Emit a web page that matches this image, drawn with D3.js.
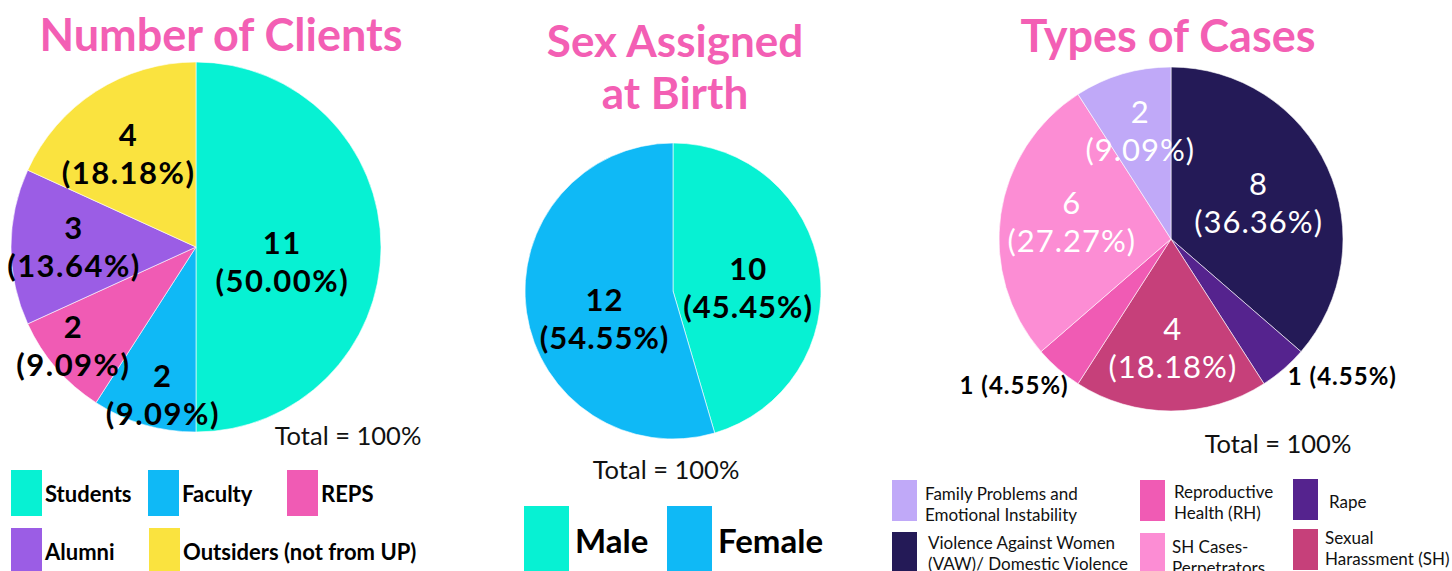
<!DOCTYPE html>
<html>
<head>
<meta charset="utf-8">
<script src="https://cdn.jsdelivr.net/npm/d3@7"></script>
<style>
  body { margin: 0; background: #fff; }
  svg { display: block; font-family: Lato, "Open Sans", sans-serif; }
</style>
</head>
<body>
<svg id="chart" width="1452" height="571"></svg>
<script>
// data
const clientCategories = ['Students', 'Faculty', 'REPS', 'Alumni', 'Outsiders (not from UP)'];
const clientValues = [11, 2, 2, 3, 4];
const clientPercents = ['50.00%', '9.09%', '9.09%', '13.64%', '18.18%'];

const sexCategories = ['Male', 'Female'];
const sexValues = [10, 12];
const sexPercents = ['45.45%', '54.55%'];

const caseCategories = ['Violence Against Women (VAW)/ Domestic Violence', 'Rape', 'Sexual Harassment (SH)',
    'Reproductive Health (RH)', 'SH Cases- Perpetrators', 'Family Problems and Emotional Instability'];
const caseValues = [8, 1, 4, 1, 6, 2];
const casePercents = ['36.36%', '4.55%', '18.18%', '4.55%', '27.27%', '9.09%'];

const totalLabel = 'Total = 100%';

const pink = '#f35fb4';
const svg = d3.select('#chart');

// labelAt: [fraction of radius, angle shift in degrees] for each slice
function drawPie(opts) {
    const g = svg.append('g').attr('transform', `translate(${opts.cx},${opts.cy})`);
    const pie = d3.pie().sort(null).value(d => d);
    const arcs = pie(opts.values);
    const arc = d3.arc().innerRadius(0).outerRadius(opts.r);

    g.selectAll('path').data(arcs).enter()
        .append('path')
        .attr('d', arc)
        .attr('fill', (d, i) => opts.colors[i])
        .attr('stroke', '#fff')
        .attr('stroke-width', 0.6);

    arcs.forEach((d, i) => {
        const lr = opts.r * opts.labelAt[i][0];
        const mid = (d.startAngle + d.endAngle) / 2 + opts.labelAt[i][1] * Math.PI / 180;
        const x = lr * Math.sin(mid);
        const y = -lr * Math.cos(mid);
        if (opts.outside && opts.outside[i]) {
            g.append('text')
                .attr('x', x).attr('y', y + 8)
                .attr('text-anchor', opts.outside[i])
                .attr('font-size', opts.smallSize)
                .attr('font-weight', 700)
                .attr('letter-spacing', 1)
                .attr('fill', '#000')
                .text(`${opts.values[i]} (${opts.percents[i]})`);
        } else {
            const t = g.append('text')
                .attr('text-anchor', 'middle')
                .attr('font-size', opts.labelSize)
                .attr('font-weight', opts.labelWeight)
                .attr('letter-spacing', opts.spacing)
                .attr('fill', opts.textColor);
            t.append('tspan').attr('x', x).attr('y', y - 4).text(opts.values[i]);
            t.append('tspan').attr('x', x).attr('y', y + 34).text(`(${opts.percents[i]})`);
        }
    });
}

function title(lines, x, y, size, gap) {
    const t = svg.append('text')
        .attr('text-anchor', 'middle')
        .attr('font-size', size)
        .attr('font-weight', 700)
        .attr('fill', pink);
    lines.forEach((l, i) => t.append('tspan').attr('x', x).attr('y', y + i * gap).text(l));
}

function total(x, y) {
    svg.append('text')
        .attr('x', x).attr('y', y)
        .attr('text-anchor', 'middle')
        .attr('font-size', 25.5)
        .attr('fill', '#111')
        .text(totalLabel);
}

// ---------- chart 1: number of clients ----------
const clientColors = ['#07f1d3', '#0fb9f6', '#f05bb4', '#9b5de5', '#fae33f'];
title(['Number of Clients'], 221, 51, 45, 0);
drawPie({
    cx: 196, cy: 247, r: 185,
    values: clientValues, percents: clientPercents, colors: clientColors,
    labelAt: [[0.47, 7], [0.8, -3.4], [0.84, 3], [0.66, 2], [0.64, -2]],
    labelSize: 31, labelWeight: 700, spacing: 1.5, textColor: '#000'
});
total(348, 445);

const leg1 = [
    {i: 0, x: 11, y: 470}, {i: 1, x: 148, y: 470}, {i: 2, x: 287, y: 470},
    {i: 3, x: 11, y: 528}, {i: 4, x: 149, y: 528}
];
leg1.forEach(p => {
    svg.append('rect').attr('x', p.x).attr('y', p.y).attr('width', 31).attr('height', 46)
        .attr('fill', clientColors[p.i]);
    svg.append('text').attr('x', p.x + 34).attr('y', p.y + 32)
        .attr('font-size', 22).attr('font-weight', 700).attr('fill', '#000')
        .text(clientCategories[p.i]);
});

// ---------- chart 2: sex assigned at birth ----------
const sexColors = ['#07f1d3', '#0fb9f6'];
title(['Sex Assigned', 'at Birth'], 675, 57, 44, 52);
drawPie({
    cx: 673, cy: 291, r: 148,
    values: sexValues, percents: sexPercents, colors: sexColors,
    labelAt: [[0.51, 3], [0.49, -11]],
    labelSize: 31, labelWeight: 700, spacing: 1, textColor: '#000'
});
total(666, 479);

[{i: 0, x: 524}, {i: 1, x: 667}].forEach(p => {
    svg.append('rect').attr('x', p.x).attr('y', 506).attr('width', 45).attr('height', 65)
        .attr('fill', sexColors[p.i]);
    svg.append('text').attr('x', p.x + 51).attr('y', 553)
        .attr('font-size', 33).attr('font-weight', 700).attr('fill', '#000')
        .text(sexCategories[p.i]);
});

// ---------- chart 3: types of cases ----------
const caseColors = ['#241a57', '#55238e', '#c6407a', '#f05bb4', '#fc8dd4', '#c0a9f8'];
title(['Types of Cases'], 1168, 52, 45, 0);
drawPie({
    cx: 1171, cy: 239, r: 172,
    values: caseValues, percents: casePercents, colors: caseColors,
    labelAt: [[0.56, 0], [1.05, 0.6], [0.61, -1], [1.04, -6], [0.59, 4], [0.675, 1]],
    outside: [null, 'start', null, 'end', null, null],
    labelSize: 31, labelWeight: 400, spacing: 1, textColor: '#fff', smallSize: 24
});
total(1278, 453);

const leg3 = [
    {i: 5, x: 892, y: 480, lines: ['Family Problems and', 'Emotional Instability'], tx: 925, ty: 500},
    {i: 3, x: 1140, y: 480, lines: ['Reproductive', 'Health (RH)'], tx: 1174, ty: 498},
    {i: 1, x: 1293, y: 479, lines: ['Rape'], tx: 1329, ty: 508},
    {i: 0, x: 892, y: 532, lines: ['Violence Against Women', '(VAW)/ Domestic Violence'], tx: 928, ty: 549},
    {i: 4, x: 1140, y: 533, lines: ['SH Cases-', 'Perpetrators'], tx: 1172, ty: 553},
    {i: 2, x: 1293, y: 529, lines: ['Sexual', 'Harassment (SH)'], tx: 1325, ty: 544}
];
leg3.forEach(p => {
    svg.append('rect').attr('x', p.x).attr('y', p.y).attr('width', 25).attr('height', 41)
        .attr('fill', caseColors[p.i]);
    const t = svg.append('text').attr('font-size', 17).attr('fill', '#111');
    p.lines.forEach((l, k) => t.append('tspan').attr('x', p.tx).attr('y', p.ty + k * 21).text(l));
});
</script>
</body>
</html>
